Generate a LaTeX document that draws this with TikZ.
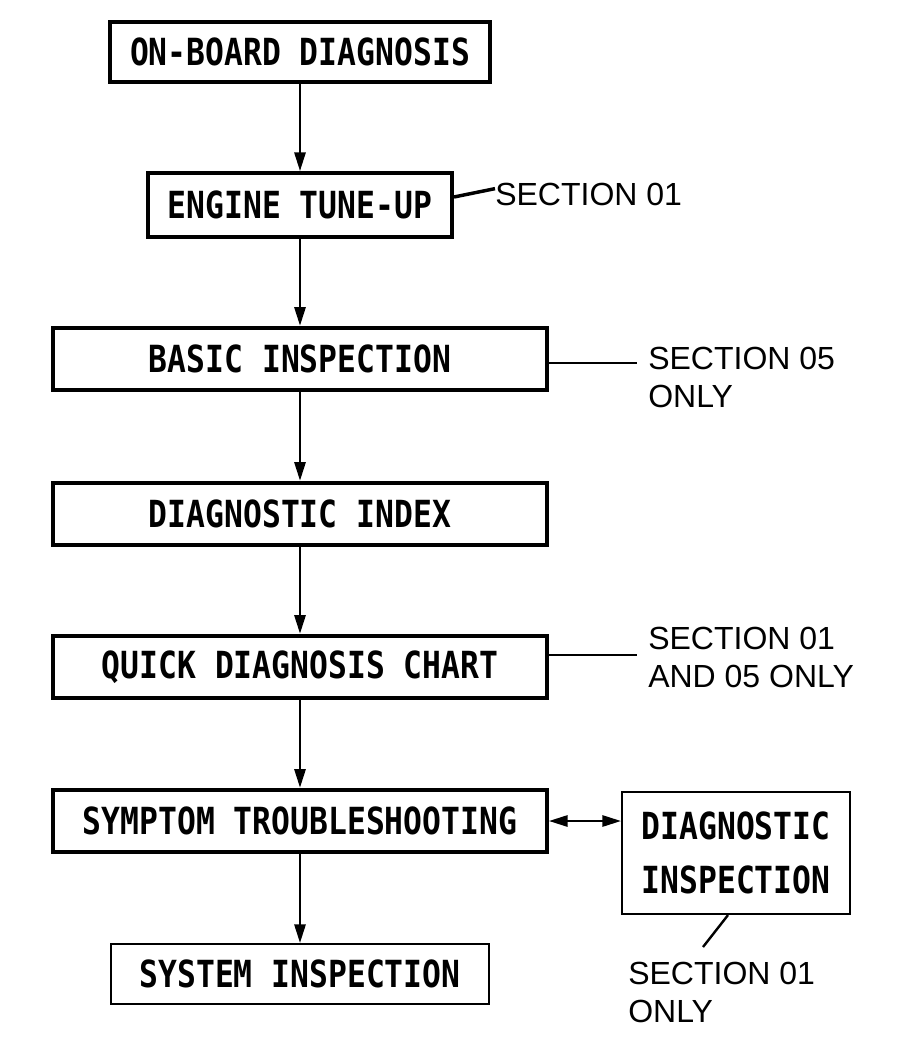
\documentclass[tikz,border=0pt]{standalone}
\usepackage{fontspec}
\newfontfamily\boxfont[FakeStretch=0.84]{DejaVu Sans Mono Bold}
\newfontfamily\notefont{Liberation Sans}
\usetikzlibrary{arrows.meta}
\tikzset{
    chart diagram/.style = {>={Triangle[length=14pt, width=8.5pt]}},
    line/.style          = {line width=1.5pt},
    block/.style         = {draw, line width=3pt, fill=white, inner sep=0pt,
                            align=center,
                            font=\boxfont\fontsize{28}{41}\selectfont,
                            minimum width=370.5pt, minimum height=47pt},
    thin block/.style    = {block, line width=1.6pt},
    leader/.style        = {line width=1.8pt},
    note/.style          = {inner sep=0pt, align=left,
                            font=\notefont\fontsize{24}{28.5}\selectfont}
}

\begin{document}
\begin{tikzpicture}[chart diagram, x=0.75pt, y=-0.75pt]
\useasboundingbox (0,0) rectangle (909,1038);

% Main column of steps
\node[block, minimum width=285pt, minimum height=45pt] (obd) at (300,52)
    {ON-BOARD DIAGNOSIS};
\node[block, minimum width=228pt, minimum height=48pt] (tuneup) at (300,205)
    {ENGINE TUNE-UP};
\node[block] (basic) at (300,359) {BASIC INSPECTION};
\node[block] (index) at (300,514) {DIAGNOSTIC INDEX};
\node[block] (quick) at (300,667) {QUICK DIAGNOSIS CHART};
\node[block] (symptom) at (300,821) {SYMPTOM TROUBLESHOOTING};
\node[thin block, minimum width=283.5pt, minimum height=45pt] (system)
    at (300,974) {SYSTEM INSPECTION};

% Side step
\node[thin block, minimum width=171pt, minimum height=91.5pt] (diaginsp)
    at (736,853) {DIAGNOSTIC\\INSPECTION};

\foreach \a/\b in {obd/tuneup, tuneup/basic, basic/index,
                   index/quick, quick/symptom, symptom/system}
    \draw[line, ->] (\a) -- (\b);
\draw[line, <->] (symptom.east) -- (symptom.east -| diaginsp.west);

% Section notes
\node[note, anchor=base west] (sec tune) at (495,205) {SECTION 01};
\draw[leader, line width=2.6pt] ([yshift=6pt]tuneup.east)
    -- ([yshift=4pt]sec tune.west);

\node[note, anchor=north west] (sec basic) at (648,347) {SECTION 05\\ONLY};
\coordinate (basic tip) at (637,363);
\draw[leader] (basic.east |- basic tip) -- (basic tip);

\node[note, anchor=north west] (sec quick) at (648,627)
    {SECTION 01\\AND 05 ONLY};
\coordinate (quick tip) at (637,655);
\draw[leader] (quick.east |- quick tip) -- (quick tip);

\node[note, anchor=north west] (sec diag) at (628,962) {SECTION 01\\ONLY};
\coordinate (diag tip) at (703,947);
\draw[leader] ([xshift=-6pt]diaginsp.south) -- (diag tip);

\end{tikzpicture}
\end{document}
